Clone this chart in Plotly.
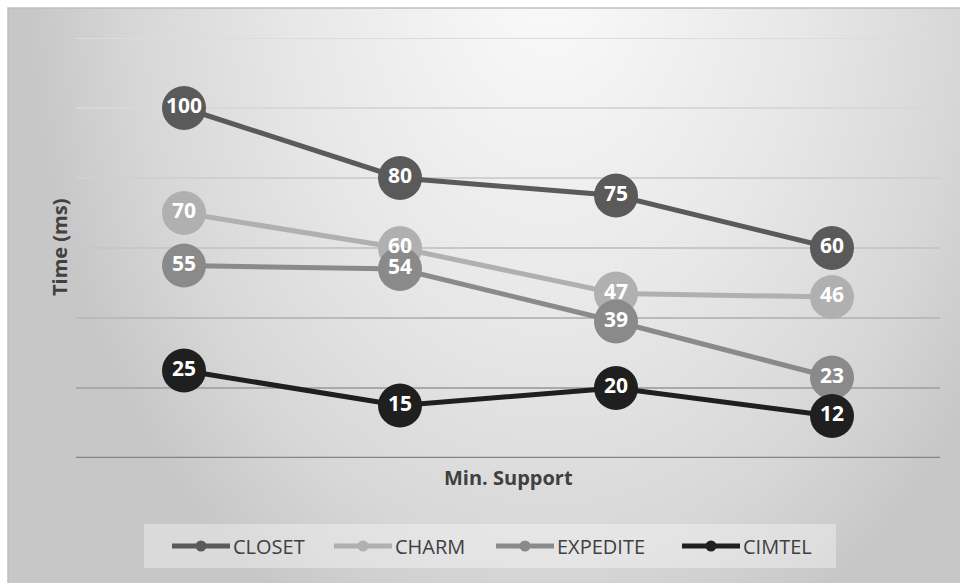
import base64
import plotly.graph_objects as go

# ---------------- data ----------------
categories = ["1", "2", "3", "4"]          # min. support levels (labels hidden in the chart)
series_names = ["CLOSET", "CHARM", "EXPEDITE", "CIMTEL"]
closet = [100, 80, 75, 60]
charm = [70, 60, 47, 46]
expedite = [55, 54, 39, 23]
cimtel = [25, 15, 20, 12]
y_ticks = [0, 20, 40, 60, 80, 100, 120]

series_values = [closet, charm, expedite, cimtel]

# ---------------- style ----------------
W, H = 960, 583
L, R, T, B = 76, 20, 38, 125
PW, PH = W - L - R, H - T - B

colors = ["#5a5a5a", "#b0b0b0", "#8a8a8a", "#1f1f1f"]
grid_colors = ["#858585", "#a9a9a9", "#bababa", "#c7c7c7", "#d0d0d0", "#d8d8d8", "#dcdcdc"]
grid_widths = [2.5, 2, 2, 2, 2, 2, 2]
legend_line_x = [172, 334, 496, 682]
legend_line_len = 58
legend_y = 546
text_color = "#404040"
FONT = "Open Sans"


def px(p):
    return (p - L) / PW


def py(p):
    return (H - B - p) / PH


svg = """<svg xmlns="http://www.w3.org/2000/svg" width="952" height="575" viewBox="0 0 952 575" preserveAspectRatio="none">
<defs><radialGradient id="g" gradientUnits="userSpaceOnUse" cx="540" cy="-50" r="520"
gradientTransform="translate(540 -50) scale(1 1.44) translate(-540 50)">
<stop offset="0" stop-color="#fbfbfb"/><stop offset="0.5" stop-color="#e7e7e7"/>
<stop offset="0.8" stop-color="#d7d7d7"/><stop offset="1" stop-color="#c7c7c7"/>
</radialGradient></defs>
<rect width="952" height="575" fill="url(#g)"/></svg>"""
svg_uri = "data:image/svg+xml;base64," + base64.b64encode(svg.encode()).decode()

fig = go.Figure()

for name, vals, col in zip(series_names, series_values, colors):
    fig.add_trace(go.Scatter(
        x=categories, y=vals, name=name, mode="lines+markers",
        line=dict(color=col, width=5),
        marker=dict(size=44, color=col),
        showlegend=False, cliponaxis=False, hoverinfo="x+y+name",
    ))

for name, vals in zip(series_names, series_values):
    fig.add_trace(go.Scatter(
        x=categories, y=vals, mode="text", text=[str(v) for v in vals],
        textposition="middle center",
        textfont=dict(family=FONT, size=21, color="white", weight="bold"),
        showlegend=False, cliponaxis=False, hoverinfo="skip",
    ))

shapes = []
# outer chart border
shapes.append(dict(type="rect", xref="paper", yref="paper",
                   x0=px(8), x1=px(970), y0=py(8), y1=py(600),
                   line=dict(color="#c0c0c0", width=1.5), fillcolor="rgba(0,0,0,0)", layer="below"))
# gridlines
for v, gc, gw in zip(y_ticks, grid_colors, grid_widths):
    shapes.append(dict(type="line", xref="paper", yref="y", x0=0, x1=1, y0=v, y1=v,
                       line=dict(color=gc, width=gw), layer="below"))
# legend box
shapes.append(dict(type="rect", xref="paper", yref="paper",
                   x0=px(144), x1=px(836), y0=py(524), y1=py(568),
                   line=dict(width=0), fillcolor="rgba(255,255,255,0.35)", layer="below"))

annotations = []
for name, col, lx in zip(series_names, colors, legend_line_x):
    shapes.append(dict(type="line", xref="paper", yref="paper",
                       x0=px(lx), x1=px(lx + legend_line_len), y0=py(legend_y), y1=py(legend_y),
                       line=dict(color=col, width=5), layer="above"))
    cx = lx + legend_line_len / 2
    shapes.append(dict(type="circle", xref="paper", yref="paper",
                       x0=px(cx - 5.5), x1=px(cx + 5.5), y0=py(legend_y + 5.5), y1=py(legend_y - 5.5),
                       line=dict(width=0), fillcolor=col, layer="above"))
    annotations.append(dict(xref="paper", yref="paper", x=px(lx + legend_line_len + 1), y=py(legend_y),
                            xanchor="left", yanchor="middle", showarrow=False, text=name,
                            font=dict(family=FONT, size=20, color=text_color)))

annotations.append(dict(xref="paper", yref="paper", x=px(59), y=0.5, textangle=-90,
                        xanchor="center", yanchor="middle", showarrow=False, text="Time (ms)",
                        font=dict(family=FONT, size=20, color=text_color, weight="bold")))
annotations.append(dict(xref="paper", yref="paper", x=0.5, y=py(477),
                        xanchor="center", yanchor="middle", showarrow=False, text="Min. Support",
                        font=dict(family=FONT, size=20, color=text_color, weight="bold")))

fig.update_layout(
    width=W, height=H, autosize=False,
    margin=dict(l=L, r=R, t=T, b=B),
    paper_bgcolor="white", plot_bgcolor="rgba(0,0,0,0)",
    xaxis=dict(type="category", range=[-0.5, 3.5], showgrid=False, showticklabels=False,
               zeroline=False, showline=False, ticks=""),
    yaxis=dict(range=[y_ticks[0], y_ticks[-1]], showgrid=False, showticklabels=False,
               zeroline=False, showline=False, ticks=""),
    images=[dict(source=svg_uri, xref="paper", yref="paper", x=px(8), y=py(8),
                 sizex=952 / PW, sizey=575 / PH, xanchor="left", yanchor="top",
                 sizing="stretch", layer="below")],
    shapes=shapes, annotations=annotations, showlegend=False,
)

fig.write_html("out.html")
